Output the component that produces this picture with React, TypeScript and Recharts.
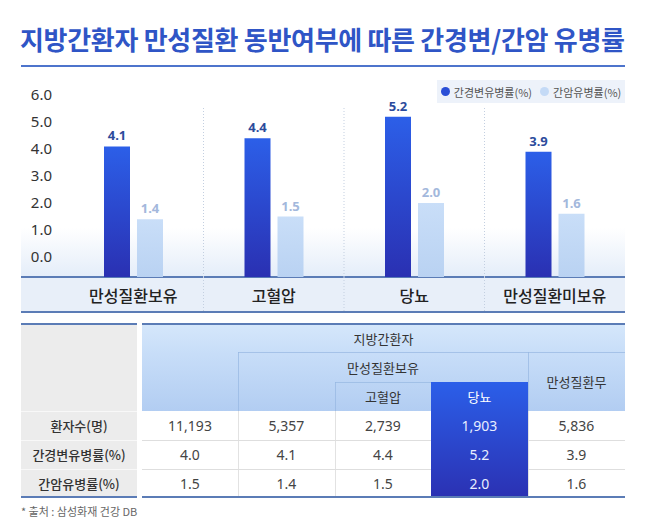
import React from 'react';
import { BarChart, Bar, XAxis, YAxis, CartesianGrid, LabelList } from 'recharts';

const categories = ['만성질환보유', '고혈압', '당뇨', '만성질환미보유'];
const cirrhosisRates = [4.1, 4.4, 5.2, 3.9];
const cancerRates = [1.4, 1.5, 2.0, 1.6];
const yTicks = [0, 1, 2, 3, 4, 5, 6];
const seriesNames = ['간경변유병률(%)', '간암유병률(%)'];

const rowLabels = ['환자수(명)', '간경변유병률(%)', '간암유병률(%)'];
const patientCounts = ['11,193', '5,357', '2,739', '1,903', '5,836'];
const tableCirrhosis = ['4.0', '4.1', '4.4', '5.2', '3.9'];
const tableCancer = ['1.5', '1.4', '1.5', '2.0', '1.6'];

// bars are drawn up from the bottom of the plot, below the 0.0 tick, like the original
const FLOOR = -0.74;
const FONT = '"Noto Sans CJK KR", "Noto Sans", sans-serif';
const DARK = '#2b4fd6';
const LIGHT = '#c4daf6';
const BORDER = '#5b7cb6';

const data = categories.map((name, i) => ({
  name,
  cirrhosis: cirrhosisRates[i],
  cancer: cancerRates[i],
  cirrhosisBar: [FLOOR, cirrhosisRates[i]],
  cancerBar: [FLOOR, cancerRates[i]],
}));

function CategoryTick(props: any) {
  const { x, y, payload, index, width, visibleTicksCount } = props;
  const band = width && visibleTicksCount ? width / visibleTicksCount : 0;
  return (
    <g>
      <text x={x} y={y + 18} textAnchor="middle" dominantBaseline="central" fontSize={16} fontWeight={500} fill="#222" fontFamily={FONT}>
        {payload.value}
      </text>
      {band > 0 && index < visibleTicksCount - 1 && (
        <line x1={x + band / 2} x2={x + band / 2} y1={y} y2={y + 35} stroke="#c3cfe0" strokeDasharray="1 2" />
      )}
    </g>
  );
}

const abs = (x: number, y: number, w: number, h: number): React.CSSProperties => ({
  position: 'absolute', left: x, top: y, width: w, height: h, boxSizing: 'border-box',
});

function Cell({ x, y, w, h, children, style }: { x: number; y: number; w: number; h: number; children?: React.ReactNode; style?: React.CSSProperties }) {
  return (
    <div style={{ ...abs(x, y, w, h), display: 'flex', alignItems: 'center', justifyContent: 'center', ...style }}>{children}</div>
  );
}

const colX = [142, 238, 335, 431, 528, 625];
const rowY = [411, 440, 469, 497];
const tableRows = [patientCounts, tableCirrhosis, tableCancer];

export default function App() {
  return (
    <div style={{ position: 'absolute', left: 0, top: 0, width: 647, height: 531, background: '#fff', fontFamily: FONT, overflow: 'hidden' }}>
      <div style={{ ...abs(20, 21, 625, 36), fontSize: 26, fontWeight: 700, color: '#2f55c6', letterSpacing: -0.3, lineHeight: '36px', whiteSpace: 'nowrap' }}>
        지방간환자 만성질환 동반여부에 따른 간경변/간암 유병률
      </div>
      <div style={{ ...abs(21, 65, 604, 2), background: '#4d74cc' }} />

      {/* soft fog + category band behind the chart */}
      <div style={{ ...abs(21, 228, 604, 49), background: 'linear-gradient(to bottom, rgba(232,240,251,0), #e4edf9)' }} />
      <div style={{ ...abs(21, 276, 604, 37), background: '#e8eff9', borderTop: `2px solid ${BORDER}`, borderBottom: `2px solid ${BORDER}` }} />

      <div style={{ position: 'absolute', left: 0, top: 70 }}>
        <BarChart width={647} height={245} data={data} margin={{ top: 10, right: 22, left: 0, bottom: 3 }} barGap={7} barSize={26}>
          <defs>
            <linearGradient id="gDark" x1="0" y1="0" x2="0" y2="1">
              <stop offset="0%" stopColor="#2c5fe8" />
              <stop offset="100%" stopColor="#2a30b2" />
            </linearGradient>
            <linearGradient id="gLight" x1="0" y1="0" x2="0" y2="1">
              <stop offset="0%" stopColor="#c9def8" />
              <stop offset="100%" stopColor="#b9d2f2" />
            </linearGradient>
          </defs>
          <CartesianGrid
            horizontal={false}
            y={38}
            height={169}
            stroke="#c3cfe0"
            strokeDasharray="1 2"
            verticalCoordinatesGenerator={({ offset }: any) =>
              categories.slice(1).map((_, i) => offset.left + (offset.width * (i + 1)) / categories.length)
            }
          />
          <XAxis dataKey="name" height={35} axisLine={false} tickLine={false} tickSize={0} tickMargin={0} interval={0} tick={<CategoryTick />} />
          <YAxis
            type="number"
            domain={[FLOOR, 6.56]}
            ticks={yTicks}
            allowDataOverflow
            width={63}
            axisLine={false}
            tickLine={false}
            tickSize={0}
            tickMargin={11}
            tickFormatter={(v: number) => v.toFixed(1)}
            tick={{ fill: '#333', fontSize: 15, fontFamily: '"Noto Sans", sans-serif' }}
          />
          <Bar dataKey="cirrhosisBar" name={seriesNames[0]} fill="url(#gDark)" isAnimationActive={false}>
            <LabelList dataKey="cirrhosis" position="top" offset={6} formatter={(v: any) => Number(v).toFixed(1)} fill="#2c4b9c" fontSize={13} fontWeight={700} fontFamily={'"Noto Sans", sans-serif'} />
          </Bar>
          <Bar dataKey="cancerBar" name={seriesNames[1]} fill="url(#gLight)" isAnimationActive={false}>
            <LabelList dataKey="cancer" position="top" offset={6} formatter={(v: any) => Number(v).toFixed(1)} fill="#a3b8dc" fontSize={13} fontWeight={700} fontFamily={'"Noto Sans", sans-serif'} />
          </Bar>
        </BarChart>
      </div>

      {/* legend */}
      <div style={{ ...abs(437, 80, 188, 23), background: '#edf2fa', display: 'flex', alignItems: 'center', justifyContent: 'center', gap: 8, fontSize: 11, color: '#555' }}>
        {seriesNames.map((n, i) => (
          <span key={n} style={{ display: 'flex', alignItems: 'center', gap: 4 }}>
            <span style={{ width: 9, height: 9, borderRadius: 5, background: i === 0 ? DARK : LIGHT, display: 'inline-block' }} />
            {n}
          </span>
        ))}
      </div>

      {/* table */}
      <div style={{ ...abs(21, 324, 116, 173), background: '#ececec' }} />
      <div style={{ ...abs(142, 324, 483, 87), background: 'linear-gradient(to bottom, #d5e7fb 0%, #c7ddf8 35%, #b2cdf2 100%)' }} />
      <div style={{ ...abs(238, 352, 387, 1), background: 'rgba(150,182,225,0.7)' }} />
      <div style={{ ...abs(335, 382, 96, 1), background: 'rgba(150,182,225,0.7)' }} />
      <div style={{ ...abs(238, 352, 1, 59), background: 'rgba(150,182,225,0.7)' }} />
      <div style={{ ...abs(335, 382, 1, 29), background: 'rgba(150,182,225,0.7)' }} />
      <div style={{ ...abs(528, 352, 1, 59), background: 'rgba(150,182,225,0.7)' }} />
      {[1, 2, 3, 4].map((i) => (
        <div key={i} style={{ ...abs(colX[i], 411, 1, 86), background: '#e2e2e2' }} />
      ))}
      {[1, 2].map((r) => (
        <React.Fragment key={r}>
          <div style={{ ...abs(142, rowY[r], 483, 1), background: '#dedede' }} />
          <div style={{ ...abs(21, rowY[r], 116, 1), background: '#f8f8f8' }} />
        </React.Fragment>
      ))}
      <div style={{ ...abs(21, 411, 116, 1), background: '#f8f8f8' }} />
      <div style={{ ...abs(431, 382, 97, 115), background: 'linear-gradient(to bottom, #2b5fe9, #2b31b3)' }} />

      <Cell x={142} y={324} w={483} h={28} style={{ fontSize: 13, color: '#333' }}>지방간환자</Cell>
      <Cell x={238} y={352} w={290} h={30} style={{ fontSize: 13, color: '#333' }}>만성질환보유</Cell>
      <Cell x={335} y={382} w={96} h={29} style={{ fontSize: 13, color: '#333' }}>고혈압</Cell>
      <Cell x={431} y={382} w={97} h={29} style={{ fontSize: 13, color: '#fff' }}>당뇨</Cell>
      <Cell x={528} y={352} w={97} h={59} style={{ fontSize: 13, color: '#333' }}>만성질환무</Cell>

      {rowLabels.map((label, r) => (
        <Cell key={label} x={21} y={rowY[r]} w={116} h={rowY[r + 1] - rowY[r]} style={{ fontSize: 13, fontWeight: 500, color: '#333' }}>
          {label}
        </Cell>
      ))}
      {tableRows.map((row, r) =>
        row.map((v, c) => (
          <Cell
            key={`${r}-${c}`}
            x={colX[c]}
            y={rowY[r]}
            w={colX[c + 1] - colX[c]}
            h={rowY[r + 1] - rowY[r]}
            style={{ fontSize: 14, color: c === 3 ? '#e8eeff' : '#444', fontFamily: '"Noto Sans", sans-serif' }}
          >
            {v}
          </Cell>
        ))
      )}

      <div style={{ ...abs(21, 323, 116, 2), background: BORDER }} />
      <div style={{ ...abs(142, 323, 483, 2), background: BORDER }} />
      <div style={{ ...abs(21, 496, 116, 2), background: BORDER }} />
      <div style={{ ...abs(142, 496, 483, 2), background: BORDER }} />

      <div style={{ ...abs(21, 503, 300, 16), fontSize: 11, color: '#666', lineHeight: '16px' }}>* 출처 : 삼성화재 건강 DB</div>
    </div>
  );
}
